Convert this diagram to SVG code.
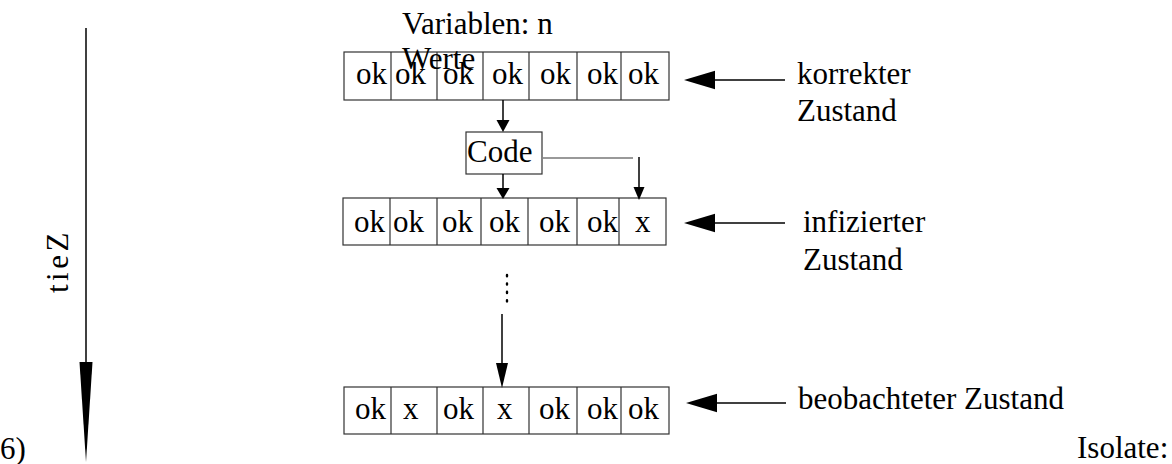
<svg xmlns="http://www.w3.org/2000/svg" width="1172" height="464" viewBox="0 0 1172 464" font-family="'Liberation Serif', 'Times New Roman', 'DejaVu Serif', serif">
  <style>
    text { font-family: "Liberation Serif", "Times New Roman", "DejaVu Serif", serif; font-size: 31px; fill: #000; }
    .cell { fill: #fff; stroke: #333; stroke-width: 1.2; }
    .div { stroke: #333; stroke-width: 1.2; fill: none; }
    .ln { stroke: #000; stroke-width: 1.5; fill: none; }
    .gray { stroke: #777; stroke-width: 1.5; fill: none; }
    .dot { stroke: #000; stroke-width: 2.4; stroke-dasharray: 1.2 7.2; stroke-linecap: round; fill: none; }
    .head { fill: #000; stroke: none; }
  </style>
  <rect width="1172" height="464" fill="#fff"/>

  <!-- time axis -->
  <g id="time-axis">
    <line class="ln" x1="86" y1="28" x2="86" y2="370"/>
    <polygon class="head" points="79.5,362 92.5,362 86,462"/>
    <text transform="translate(68,293) rotate(-90)" letter-spacing="3.5">tieZ</text>
  </g>

  <!-- top label -->
  <g id="label-vars">
    <text x="402" y="34">Variablen: n</text>
  </g>

  <!-- correct state row -->
  <g id="row-correct">
    <rect class="cell" x="344" y="52" width="325" height="48"/>
    <path class="div" d="M391 52V100M437 52V100M483 52V100M529 52V100M577 52V100M621 52V100"/>
    <text x="356" y="84">ok</text>
    <text x="395" y="84">ok</text>
    <text x="443" y="84">ok</text>
    <text x="492" y="84">ok</text>
    <text x="540" y="84">ok</text>
    <text x="587" y="84">ok</text>
    <text x="628" y="84">ok</text>
    <text x="402" y="69">Werte</text>
  </g>

  <!-- code box -->
  <g id="code">
    <rect class="cell" x="466" y="132" width="76" height="42"/>
    <text x="467" y="162">Code</text>
  </g>

  <!-- infected state row -->
  <g id="row-infected">
    <rect class="cell" x="343" y="198" width="323" height="47"/>
    <path class="div" d="M390 198V245M437 198V245M481 198V245M528 198V245M577 198V245M619 198V245"/>
    <text x="354" y="232">ok</text>
    <text x="393" y="232">ok</text>
    <text x="442" y="232">ok</text>
    <text x="489" y="232">ok</text>
    <text x="539" y="232">ok</text>
    <text x="587" y="232">ok</text>
    <text x="635" y="232">x</text>
  </g>

  <!-- observed state row -->
  <g id="row-observed">
    <rect class="cell" x="344" y="387" width="325" height="47"/>
    <path class="div" d="M391 387V434M437 387V434M483 387V434M529 387V434M577 387V434M621 387V434"/>
    <text x="355" y="419">ok</text>
    <text x="403" y="419">x</text>
    <text x="443" y="419">ok</text>
    <text x="497" y="419">x</text>
    <text x="539" y="419">ok</text>
    <text x="587" y="419">ok</text>
    <text x="628" y="419">ok</text>
  </g>

  <!-- state labels -->
  <g id="label-correct">
    <text x="797" y="84">korrekter</text>
    <text x="797" y="121">Zustand</text>
  </g>
  <g id="label-infected">
    <text x="803" y="232">infizierter</text>
    <text x="803" y="270">Zustand</text>
  </g>
  <g id="label-observed">
    <text x="798" y="409">beobachteter Zustand</text>
  </g>

  <!-- page text -->
  <g id="page-text">
    <text x="0" y="459">6)</text>
    <text x="1077" y="458">Isolate:</text>
  </g>

  <!-- connectors -->
  <g id="connectors">
    <!-- correct row to code -->
    <line class="ln" x1="503" y1="100" x2="503" y2="122"/>
    <polygon class="head" points="496.5,120 509.5,120 503,132"/>
    <!-- code to infected row -->
    <line class="ln" x1="503" y1="174" x2="503" y2="190"/>
    <polygon class="head" points="496.5,188 509.5,188 503,199"/>
    <!-- code to last cell -->
    <line class="gray" x1="543" y1="158" x2="633" y2="158"/>
    <line class="ln" x1="639" y1="157" x2="639" y2="190"/>
    <polygon class="head" points="633.5,187 644.5,187 639,200"/>
    <!-- ellipsis -->
    <line class="dot" x1="507" y1="275" x2="507" y2="308"/>
    <!-- to observed row -->
    <line class="ln" x1="502" y1="314" x2="502" y2="370"/>
    <polygon class="head" points="496,363 508,363 502,388"/>
    <!-- label pointers -->
    <line class="ln" x1="710" y1="80" x2="785" y2="80"/>
    <polygon class="head" points="684,80 715,70.7 715,89.3"/>
    <line class="ln" x1="710" y1="223" x2="785" y2="223"/>
    <polygon class="head" points="684,223 715,213.7 715,232.3"/>
    <line class="ln" x1="712" y1="403" x2="786" y2="403"/>
    <polygon class="head" points="686,403 717,393.7 717,412.3"/>
  </g>
</svg>
